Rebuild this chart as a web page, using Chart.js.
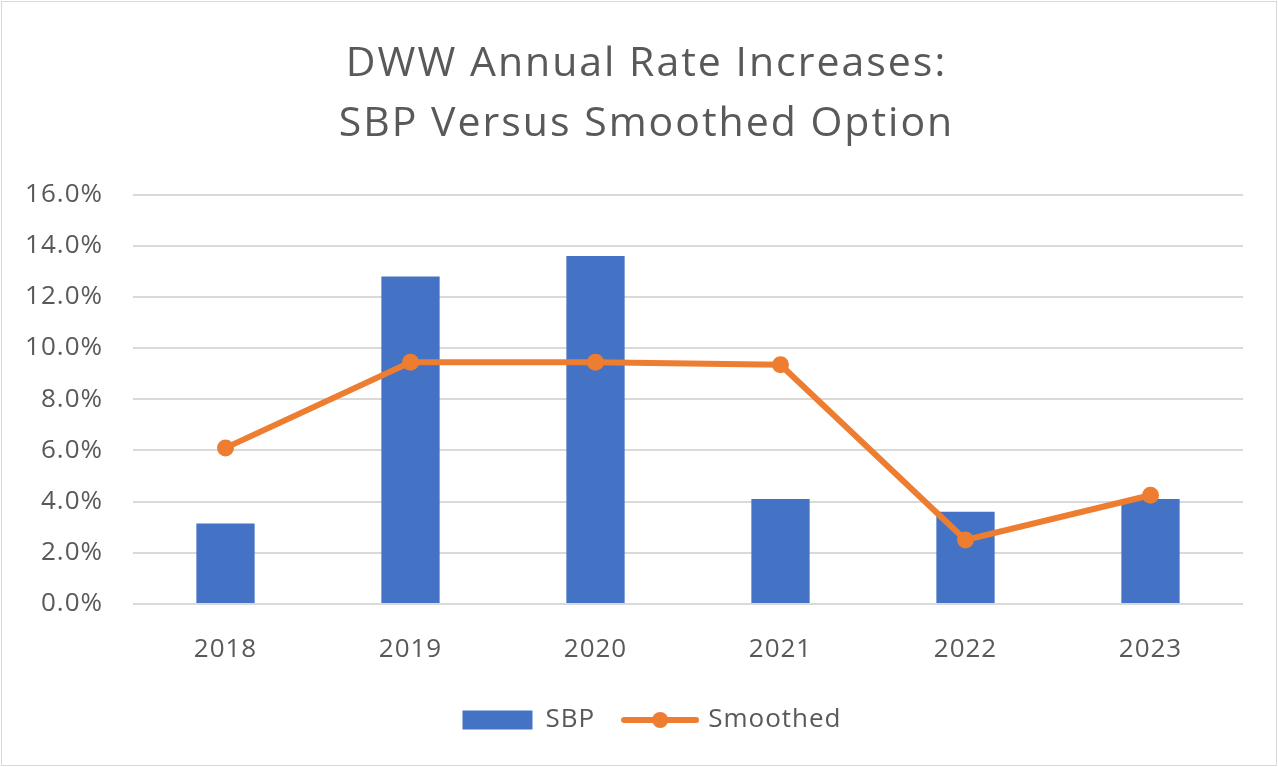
<!DOCTYPE html>
<html>
<head>
<meta charset="utf-8">
<script src="https://cdn.jsdelivr.net/npm/chart.js@4.4.1/dist/chart.umd.min.js"></script>
<style>
  html, body { margin: 0; padding: 0; background: #fff; }
  #wrap { width: 1278px; height: 767px; position: relative; }
</style>
</head>
<body>
<div id="wrap"><canvas id="chart" width="1278" height="767"></canvas></div>
<script>
// data
const years = ['2018', '2019', '2020', '2021', '2022', '2023'];
const sbp = [3.15, 12.8, 13.6, 4.1, 3.6, 4.1];
const smoothed = [6.1, 9.45, 9.45, 9.35, 2.5, 4.25];
const titleLines = ['DWW Annual Rate Increases:', 'SBP Versus Smoothed Option'];

const BLUE = '#4472C4';
const ORANGE = '#ED7D31';
const TEXT = '#595959';
const GRID = '#d9d9d9';
const FONT = '"Open Sans", Lato, sans-serif';

// legend symbol for the line series: a short stroke with a dot in the middle
function lineSymbol() {
  const c = document.createElement('canvas');
  c.width = 78; c.height = 20;
  const g = c.getContext('2d');
  g.strokeStyle = ORANGE;
  g.lineWidth = 6;
  g.lineCap = 'round';
  g.beginPath(); g.moveTo(3, 10); g.lineTo(75, 10); g.stroke();
  g.fillStyle = ORANGE;
  g.beginPath(); g.arc(39, 10, 8, 0, Math.PI * 2); g.fill();
  return c;
}

// white background + thin frame round the whole chart, slightly wider text
const frame = {
  id: 'frame',
  beforeDraw(chart) {
    const { ctx, width, height } = chart;
    ctx.save();
    ctx.fillStyle = '#fff';
    ctx.fillRect(0, 0, width, height);
    ctx.strokeStyle = GRID;
    ctx.lineWidth = 1;
    ctx.strokeRect(1.5, 1.5, width - 3, height - 3);
    ctx.restore();
    ctx.letterSpacing = '1px';
  },
};

const symbol = lineSymbol();

const chart = new Chart(document.getElementById('chart'), {
  data: {
    labels: years,
    datasets: [
      {
        type: 'line',
        label: 'Smoothed',
        data: smoothed,
        borderColor: ORANGE,
        backgroundColor: ORANGE,
        borderWidth: 6,
        pointRadius: 8.5,
        pointHoverRadius: 8.5,
        pointBackgroundColor: ORANGE,
        pointBorderWidth: 0,
        tension: 0,
        order: 0,
      },
      {
        type: 'bar',
        label: 'SBP',
        data: sbp,
        backgroundColor: BLUE,
        categoryPercentage: 1,
        barPercentage: 0.315,
        order: 1,
      },
    ],
  },
  options: {
    responsive: false,
    animation: false,
    layout: { padding: { left: 0, right: 35, top: 0, bottom: 24 } },
    plugins: {
      title: {
        display: true,
        text: titleLines,
        color: TEXT,
        font: { family: FONT, size: 41, weight: 'normal', lineHeight: 1.47 },
        padding: { top: 34, bottom: 40 },
      },
      legend: {
        position: 'bottom',
        reverse: true,
        labels: {
          color: TEXT,
          font: { family: FONT, size: 26 },
          usePointStyle: true,
          pointStyleWidth: 70,
          boxHeight: 19,
          padding: 30,
          generateLabels(chart) {
            const items = Chart.defaults.plugins.legend.labels.generateLabels(chart);
            items.forEach(it => {
              if (it.text === 'SBP') {
                it.pointStyle = 'rect';
                it.fillStyle = BLUE;
                it.strokeStyle = BLUE;
                it.lineWidth = 0;
              } else {
                it.pointStyle = symbol;
              }
            });
            return items;
          },
        },
      },
      tooltip: { enabled: false },
    },
    scales: {
      x: {
        grid: { display: false },
        border: { display: false },
        ticks: { color: TEXT, font: { family: FONT, size: 26 }, padding: 22 },
        afterFit(scale) { scale.height = 73; },
      },
      y: {
        min: 0,
        max: 16,
        ticks: {
          stepSize: 2,
          color: TEXT,
          font: { family: FONT, size: 26 },
          padding: 30,
          callback: v => v.toFixed(1) + '%',
        },
        grid: { color: GRID, lineWidth: 2, drawTicks: false },
        border: { display: false },
        afterFit(scale) { scale.width = 133; },
      },
    },
  },
  plugins: [frame],
});

// title and legend sit centred on the whole picture, not on the plot column;
// the title also gets a little more letter spacing than the rest
const SHIFT = 25;
const titleDraw = chart.titleBlock.draw.bind(chart.titleBlock);
chart.titleBlock.draw = function () {
  chart.ctx.save();
  chart.ctx.translate(SHIFT, 0);
  chart.ctx.letterSpacing = '2px';
  titleDraw();
  chart.ctx.restore();
};
const legendDraw = chart.legend.draw.bind(chart.legend);
chart.legend.draw = function () {
  chart.ctx.save();
  chart.ctx.translate(SHIFT, 0);
  legendDraw();
  chart.ctx.restore();
};
chart.draw();
</script>
</body>
</html>
